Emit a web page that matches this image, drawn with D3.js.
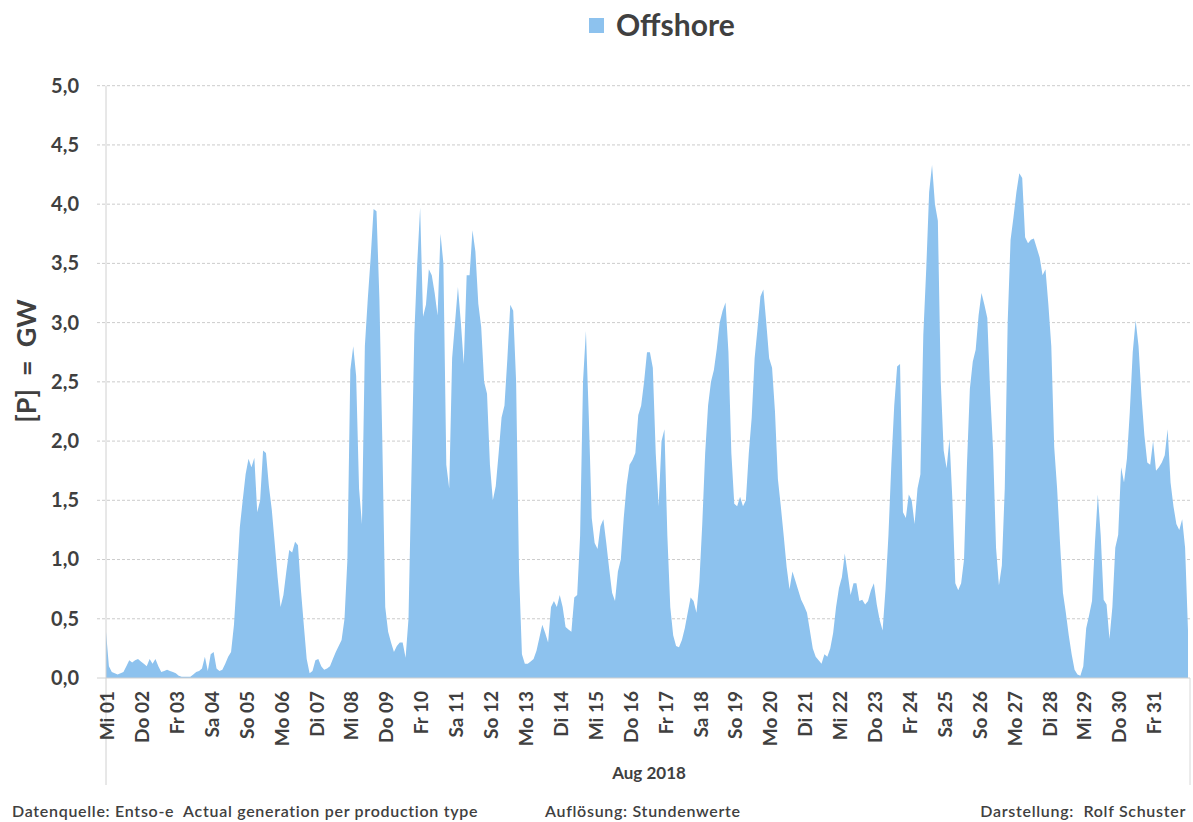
<!DOCTYPE html>
<html>
<head>
<meta charset="utf-8">
<script src="https://cdnjs.cloudflare.com/ajax/libs/d3/7.8.5/d3.min.js"></script>
<style>
  html, body { margin: 0; padding: 0; background: #fff; }
  svg text { font-family: Lato, 'Open Sans', sans-serif; fill: #404040; }
</style>
</head>
<body>
<div id="content"></div>
<script>
'use strict';

var stepHours = 2
var offshore = [
    0.39, 0.10, 0.05, 0.04, 0.03, 0.04, 0.05, 0.10, 0.15, 0.13, 0.15, 0.16, // 01
    0.14, 0.12, 0.10, 0.16, 0.12, 0.16, 0.10, 0.05, 0.06, 0.07, 0.06, 0.05, // 02
    0.04, 0.02, 0.01, 0.01, 0.01, 0.01, 0.03, 0.05, 0.06, 0.08, 0.18, 0.06, // 03
    0.20, 0.22, 0.08, 0.06, 0.07, 0.12, 0.18, 0.22, 0.45, 0.85, 1.27, 1.50, // 04
    1.72, 1.85, 1.78, 1.86, 1.40, 1.50, 1.92, 1.90, 1.62, 1.42, 1.14, 0.85, // 05
    0.60, 0.70, 0.90, 1.08, 1.06, 1.15, 1.12, 0.75, 0.45, 0.16, 0.04, 0.06, // 06
    0.15, 0.16, 0.10, 0.07, 0.08, 0.10, 0.16, 0.22, 0.27, 0.32, 0.50, 1.00, // 07
    2.60, 2.80, 2.55, 1.60, 1.30, 2.80, 3.20, 3.55, 3.96, 3.94, 3.20, 2.00, // 08
    0.60, 0.39, 0.30, 0.22, 0.27, 0.30, 0.30, 0.17, 0.50, 1.70, 2.90, 3.50, // 09
    3.97, 3.05, 3.15, 3.45, 3.40, 3.25, 3.06, 3.75, 3.50, 1.80, 1.60, 2.70, // 10
    3.00, 3.30, 3.00, 2.65, 3.40, 3.40, 3.78, 3.60, 3.16, 2.96, 2.50, 2.40, // 11
    1.80, 1.50, 1.62, 1.90, 2.20, 2.30, 2.70, 3.15, 3.10, 2.50, 0.90, 0.20, // 12
    0.12, 0.12, 0.14, 0.16, 0.23, 0.34, 0.45, 0.38, 0.30, 0.60, 0.65, 0.60, // 13
    0.70, 0.60, 0.43, 0.41, 0.39, 0.68, 0.70, 1.20, 2.50, 2.93, 2.20, 1.35, // 14
    1.14, 1.09, 1.28, 1.34, 1.14, 0.92, 0.72, 0.65, 0.90, 1.00, 1.35, 1.63, // 15
    1.80, 1.84, 1.90, 2.22, 2.30, 2.50, 2.75, 2.75, 2.62, 1.90, 1.45, 2.00, // 16
    2.10, 1.20, 0.60, 0.36, 0.27, 0.26, 0.32, 0.42, 0.55, 0.68, 0.65, 0.55, // 17
    0.81, 1.30, 1.90, 2.30, 2.50, 2.60, 2.78, 3.00, 3.10, 3.17, 2.75, 1.90, // 18
    1.47, 1.45, 1.53, 1.45, 1.50, 1.90, 2.20, 2.70, 2.95, 3.22, 3.28, 3.00, // 19
    2.70, 2.62, 2.25, 1.68, 1.45, 1.20, 0.94, 0.75, 0.90, 0.82, 0.74, 0.66, // 20
    0.61, 0.55, 0.40, 0.25, 0.18, 0.15, 0.12, 0.20, 0.18, 0.25, 0.38, 0.60, // 21
    0.76, 0.85, 1.05, 0.88, 0.70, 0.80, 0.80, 0.65, 0.66, 0.62, 0.65, 0.74, // 22
    0.80, 0.62, 0.49, 0.40, 0.75, 1.20, 1.80, 2.30, 2.63, 2.65, 1.40, 1.35, // 23
    1.55, 1.50, 1.30, 1.60, 1.72, 2.90, 3.45, 4.10, 4.33, 4.00, 3.86, 2.50, // 24
    1.92, 1.77, 2.02, 1.50, 0.80, 0.74, 0.80, 1.00, 1.80, 2.44, 2.67, 2.77, // 25
    3.06, 3.25, 3.15, 3.04, 2.40, 1.92, 1.10, 0.78, 0.95, 1.60, 3.00, 3.70, // 26
    3.89, 4.10, 4.26, 4.22, 3.72, 3.67, 3.70, 3.71, 3.63, 3.55, 3.40, 3.45, // 27
    3.15, 2.80, 1.95, 1.60, 1.14, 0.72, 0.55, 0.36, 0.20, 0.07, 0.03, 0.02, // 28
    0.10, 0.42, 0.53, 0.65, 1.14, 1.55, 1.20, 0.66, 0.62, 0.33, 0.60, 1.10, // 29
    1.21, 1.78, 1.65, 1.85, 2.25, 2.75, 3.02, 2.80, 2.38, 2.05, 1.82, 1.80, // 30
    2.00, 1.75, 1.78, 1.82, 1.88, 2.10, 1.65, 1.45, 1.30, 1.25, 1.34, 1.10, // 31
    0.40
]
var dayLabels = ['Mi 01', 'Do 02', 'Fr 03', 'Sa 04', 'So 05', 'Mo 06', 'Di 07', 'Mi 08', 'Do 09', 'Fr 10',
    'Sa 11', 'So 12', 'Mo 13', 'Di 14', 'Mi 15', 'Do 16', 'Fr 17', 'Sa 18', 'So 19', 'Mo 20', 'Di 21',
    'Mi 22', 'Do 23', 'Fr 24', 'Sa 25', 'So 26', 'Mo 27', 'Di 28', 'Mi 29', 'Do 30', 'Fr 31']
var yTicks = [0, 0.5, 1, 1.5, 2, 2.5, 3, 3.5, 4, 4.5, 5]
var seriesName = 'Offshore'
var monthLabel = 'Aug 2018'
var yTitle = '[P]  =  GW'
var footer = ['Datenquelle: Entso-e  Actual generation per production type', 'Auflösung: Stundenwerte', 'Darstellung:  Rolf Schuster']

var W = 1193
var H = 822
var plotLeft = 106
var plotRight = 1188
var plotTop = 85.7
var plotBottom = 678
var blue = '#8dc2ee'

var svg = d3.select('#content').append('svg').attr('width', W).attr('height', H)

var x = d3.scaleLinear().domain([0, dayLabels.length * 24]).range([plotLeft, plotRight])
var y = d3.scaleLinear().domain([0, 5]).range([plotBottom, plotTop])

// gitternetz
svg.append('g').selectAll('line').data(yTicks.slice(1)).enter().append('line')
    .attr('x1', 97).attr('x2', 1190)
    .attr('y1', function(d) { return y(d) }).attr('y2', function(d) { return y(d) })
    .style('stroke', '#cccccc').style('stroke-dasharray', '3,2').style('stroke-width', 1)

// flaeche
var area = d3.area()
    .x(function(d, i) { return x(i * stepHours) })
    .y0(y(0))
    .y1(function(d) { return y(d) })
svg.append('path').datum(offshore).attr('d', area).style('fill', blue)

// achsen
svg.append('line').attr('x1', 97).attr('x2', 1190).attr('y1', plotBottom).attr('y2', plotBottom)
    .style('stroke', '#d0d0d0')
svg.append('line').attr('x1', plotLeft).attr('x2', plotLeft).attr('y1', plotTop).attr('y2', 785)
    .style('stroke', '#d0d0d0')
svg.append('line').attr('x1', 1190).attr('x2', 1190).attr('y1', plotBottom).attr('y2', 785)
    .style('stroke', '#d8d8d8')

var yAxis = d3.axisLeft(y).tickValues(yTicks).tickSize(0).tickPadding(0)
    .tickFormat(function(d) { return d3.format('.1f')(d).replace('.', ',') })
var gy = svg.append('g').attr('transform', 'translate(79,0)').call(yAxis)
gy.select('.domain').remove()
gy.selectAll('text').style('font-size', '20px').style('font-weight', 'bold').style('fill', '#404040')

var xAxis = d3.axisBottom(x).tickValues(d3.range(dayLabels.length).map(function(d) { return d * 24 }))
    .tickSize(0).tickFormat(function(d, i) { return dayLabels[i] })
var gx = svg.append('g').attr('transform', 'translate(1,' + plotBottom + ')').call(xAxis)
gx.select('.domain').remove()
gx.selectAll('text')
    .attr('transform', 'rotate(-90)')
    .attr('x', -13).attr('y', 0).attr('dy', '0.35em')
    .style('text-anchor', 'end').style('font-size', '19px').style('font-weight', 'bold').style('fill', '#404040')

svg.append('text').attr('x', 649).attr('y', 779).style('text-anchor', 'middle')
    .style('font-size', '17px').style('font-weight', 'bold').text(monthLabel)

svg.append('text').attr('transform', 'translate(36,361) rotate(-90)').style('text-anchor', 'middle')
    .style('font-size', '27px').style('font-weight', 'bold').style('white-space', 'pre').text(yTitle)

// legende
svg.append('rect').attr('x', 589).attr('y', 18).attr('width', 15).attr('height', 15).style('fill', blue)
svg.append('text').attr('x', 616).attr('y', 36).style('font-size', '30px').style('font-weight', 'bold')
    .text(seriesName)

// fusszeile
var fy = 817
function footText(t, xp, anchor) {
    svg.append('text').attr('x', xp).attr('y', fy).style('text-anchor', anchor)
        .style('font-size', '16px').style('font-weight', 600).style('letter-spacing', '0.7px')
        .style('white-space', 'pre').text(t)
}
footText(footer[0], 12, 'start')
footText(footer[1], 545, 'start')
footText(footer[2], 1186, 'end')
</script>
</body>
</html>
